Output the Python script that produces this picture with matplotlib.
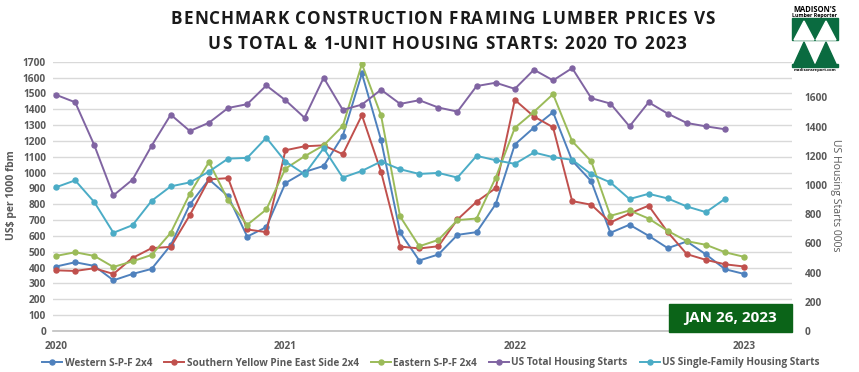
import matplotlib
matplotlib.use("Agg")
import matplotlib.pyplot as plt
from matplotlib.patches import Rectangle, Polygon
from matplotlib.lines import Line2D
from matplotlib.font_manager import FontProperties

plt.rcParams['font.family'] = ['Open Sans', 'DejaVu Sans']

# monthly points, Jan 2020 .. Jan 2023
year_ticks = [0, 12, 24, 36]
year_labels = ['2020', '2021', '2022', '2023']

# lumber prices, US$ per 1000 fbm (37 months)
western_spf = [407, 434, 411, 320, 360, 392, 542, 799, 957, 851, 596, 656,
               934, 1004, 1042, 1232, 1626, 1206, 622, 445, 483, 607, 624, 801,
               1177, 1284, 1381, 1075, 945, 620, 671, 601, 523, 565, 483, 390,
               360]
syp_east = [383, 379, 396, 360, 461, 523, 531, 732, 957, 965, 641, 624,
            1141, 1166, 1172, 1116, 1362, 1006, 533, 521, 535, 704, 816, 902,
            1459, 1354, 1286, 820, 797, 685, 742, 791, 624, 485, 449, 421,
            407]
eastern_spf = [474, 497, 474, 404, 440, 480, 620, 867, 1067, 825, 670, 767,
               1025, 1103, 1172, 1295, 1685, 1362, 723, 535, 575, 700, 710, 968,
               1282, 1384, 1495, 1198, 1071, 727, 761, 710, 632, 567, 544, 497,
               468]

# housing starts, 000s (36 months)
total_starts = [1618, 1567, 1273, 929, 1037, 1269, 1482, 1370, 1427, 1528, 1554, 1682,
                1581, 1461, 1735, 1515, 1551, 1653, 1556, 1581, 1531, 1503, 1678, 1701,
                1659, 1790, 1717, 1801, 1595, 1558, 1402, 1567, 1489, 1425, 1402, 1382]
single_family = [985, 1032, 883, 673, 725, 892, 991, 1018, 1092, 1181, 1186, 1324,
                 1161, 1074, 1252, 1051, 1097, 1161, 1108, 1076, 1083, 1051, 1200, 1170,
                 1145, 1223, 1191, 1173, 1074, 1018, 904, 940, 908, 853, 814, 906]

title_lines = ['BENCHMARK CONSTRUCTION FRAMING LUMBER PRICES VS',
               'US TOTAL & 1-UNIT HOUSING STARTS: 2020 TO 2023']

c_blue = '#4F81BD'
c_red = '#C0504D'
c_green = '#9BBB59'
c_purple = '#8064A2'
c_aqua = '#4BACC6'
txt_grey = '#595959'

W, H = 859, 372
fig = plt.figure(figsize=(W / 100, H / 100), dpi=100)
renderer = fig.canvas.get_renderer()


def fx(px):
    return px / W


def fy(py):
    return 1 - py / H


def spaced_text(cx, cy, s, size, track):
    # title in the reference is letter-spaced, so lay it out char by char
    fp = FontProperties(family='Open Sans', weight='bold', size=size)
    base = renderer.get_text_width_height_descent('HH', fp, ismath=False)[0]
    widths = []
    for ch in s:
        w = renderer.get_text_width_height_descent('H' + ch + 'H', fp, ismath=False)[0] - base
        widths.append(w)
    total = sum(widths) + track * (len(s) - 1)
    x = cx - total / 2
    for ch, w in zip(s, widths):
        if ch != ' ':
            fig.text(fx(x), fy(cy), ch, ha='left', va='center', fontproperties=fp, color='#1a1a1a')
        x += w + track


ax = fig.add_axes([fx(53), fy(331), fx(792) - fx(53), fy(61.7) - fy(331)])
ax2 = ax.twinx()

x_lumber = list(range(len(western_spf)))
x_house = list(range(len(total_starts)))

lw, ms = 1.4, 3.6
ax.plot(x_lumber, western_spf, color=c_blue, lw=lw, marker='o', ms=ms, label='Western S-P-F 2x4')
ax.plot(x_lumber, syp_east, color=c_red, lw=lw, marker='o', ms=ms, label='Southern Yellow Pine East Side 2x4')
ax.plot(x_lumber, eastern_spf, color=c_green, lw=lw, marker='o', ms=ms, label='Eastern S-P-F 2x4')
ax2.plot(x_house, total_starts, color=c_purple, lw=lw, marker='o', ms=ms, label='US Total Housing Starts')
ax2.plot(x_house, single_family, color=c_aqua, lw=lw, marker='o', ms=ms, label='US Single-Family Housing Starts')

ax.set_xlim(-0.16, 38.5)
ax.set_ylim(0, 1700)
ax.set_yticks(range(0, 1701, 100))
ax2.set_ylim(0, 1845)
ax2.set_yticks(range(0, 1601, 200))
ax.set_xticks(year_ticks)
ax.set_xticklabels(year_labels)

ax.grid(axis='y', color='#D9D9D9', lw=1)
ax.set_axisbelow(True)
for a in (ax, ax2):
    for s in a.spines.values():
        s.set_visible(False)
ax.spines['bottom'].set_visible(True)
ax.spines['bottom'].set_color('#BFBFBF')
ax.spines['bottom'].set_linewidth(1.2)

ax.tick_params(axis='y', length=0, pad=5, labelsize=7.3, labelcolor=txt_grey)
ax.tick_params(axis='x', length=0, pad=7, labelsize=7.3, labelcolor=txt_grey)
ax2.tick_params(axis='y', length=0, pad=9, labelsize=7.3, labelcolor=txt_grey)
for lab in ax.get_xticklabels() + ax.get_yticklabels() + ax2.get_yticklabels():
    lab.set_fontweight('bold')

fig.text(fx(12), fy(195), 'US$ per 1000 fbm', rotation=90, ha='center', va='center',
         fontsize=7.5, fontweight='bold', color=txt_grey)
fig.text(fx(836), fy(195), 'US Housing Starts 000s', rotation=270, ha='center', va='center',
         fontsize=7.5, color=txt_grey)

# title
spaced_text(443, 19, title_lines[0], 12.3, 1.0)
spaced_text(447, 44, title_lines[1], 12.3, 1.0)

# legend
handles = [Line2D([], [], color=c, lw=lw, marker='o', ms=ms) for c in
           (c_blue, c_red, c_green, c_purple, c_aqua)]
labels = ['Western S-P-F 2x4', 'Southern Yellow Pine East Side 2x4', 'Eastern S-P-F 2x4',
          'US Total Housing Starts', 'US Single-Family Housing Starts']
leg = fig.legend(handles, labels, loc='center', bbox_to_anchor=(fx(431), fy(363)), ncol=5,
                 frameon=False, fontsize=7.2, handlelength=2.0, handletextpad=0.25,
                 columnspacing=1.2, borderaxespad=0)
for t in leg.get_texts():
    t.set_color(txt_grey)
    t.set_fontweight('bold')

# date box
fig.patches.append(Rectangle((fx(669), fy(332)), fx(792) - fx(669), fy(304) - fy(332),
                             transform=fig.transFigure, color='#0B6418', zorder=5))
fig.text(fx(730.5), fy(318), 'JAN 26, 2023', ha='center', va='center', fontsize=11,
         fontweight='bold', color='white', zorder=6)

# logo
lg = fig.add_axes([fx(788), fy(77), fx(846) - fx(788), fy(3) - fy(77)])
lg.set_xlim(788, 846)
lg.set_ylim(77, 3)
lg.axis('off')
logo_green = '#0A6B40'
lg.add_patch(Rectangle((792, 18), 46, 22, color=logo_green))
lg.add_patch(Polygon([(794, 40), (814, 40), (804, 21)], color='white'))
lg.add_patch(Polygon([(816, 40), (836, 40), (826, 21)], color='white'))
lg.add_patch(Polygon([(794, 64), (814, 64), (804, 42)], color=logo_green))
lg.add_patch(Polygon([(816, 64), (836, 64), (826, 42)], color=logo_green))
lg.add_patch(Rectangle((792, 64), 46, 2.5, color=logo_green))
lg.text(815, 9.5, "MADISON'S", ha='center', va='center', fontsize=5.5, fontweight='bold', color='black')
lg.text(815, 15, 'Lumber Reporter', ha='center', va='center', fontsize=3.8, fontweight='bold', color='black')
lg.text(815, 70.5, 'madisonsreport.com', ha='center', va='center', fontsize=3, fontweight='bold', color='black')

fig.savefig('out.png', dpi=100, facecolor='white')
